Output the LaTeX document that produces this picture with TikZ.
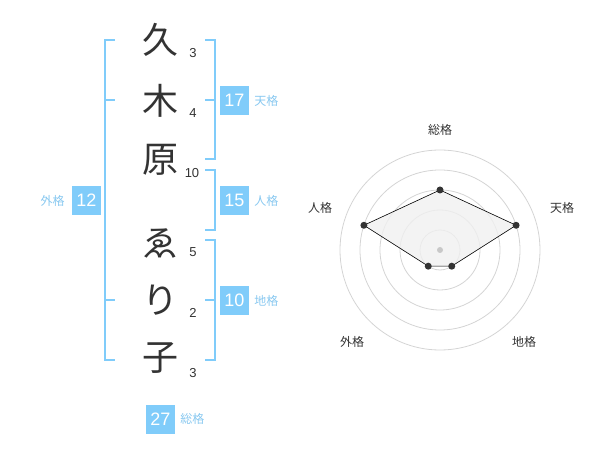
\documentclass[tikz,border=0pt]{standalone}
\usepackage{fontspec}
\setmainfont{Liberation Sans}
\newfontfamily\jpfont{Noto Sans CJK JP}
\usepackage{tikz}
\usetikzlibrary{positioning}
\definecolor{kakublue}{RGB}{128,204,250}
\definecolor{kakutext}{RGB}{136,200,240}
\definecolor{inkgray}{RGB}{51,51,51}
\definecolor{ringgray}{RGB}{212,212,212}
\definecolor{areagray}{RGB}{240,240,240}
\definecolor{centergray}{RGB}{200,200,200}

\begin{document}
\begin{tikzpicture}[
    x=1pt, y=-1pt,
    kanji/.style={font=\jpfont\fontsize{36}{36}\selectfont, text=inkgray, inner sep=0pt},
    strokes/.style={font=\fontsize{13}{13}\selectfont, text=inkgray, inner sep=0pt},
    kakubox/.style={fill=kakublue, text=white, font=\fontsize{18}{18}\selectfont, minimum width=29pt, minimum height=29pt, inner sep=0pt},
    kakulabel/.style={font=\jpfont\fontsize{12}{12}\selectfont, text=kakutext, inner sep=0pt},
    bracket/.style={draw=kakublue, line width=2pt},
    ring/.style={draw=ringgray, line width=0.8pt},
    dot/.style={circle, fill=inkgray, minimum size=7pt, inner sep=0pt},
    axislabel/.style={font=\jpfont\fontsize{12}{12}\selectfont, text=inkgray, inner sep=0pt}
]
    \useasboundingbox (0,0) rectangle (600,470);

    % name
    \node[kanji] (c1) at (160,40) {久};
    \node[kanji] (c2) at (160,101) {木};
    \node[kanji] (c3) at (160,160) {原};
    \node[kanji] (c4) at (160,243) {ゑ};
    \node[kanji] (c5) at (160,300) {り};
    \node[kanji] (c6) at (160,358) {子};

    \node[strokes] (s1) at (193,53) {3};
    \node[strokes] (s2) at (193,113) {4};
    \node[strokes] (s3) at (192,173) {10};
    \node[strokes] (s4) at (193,252) {5};
    \node[strokes] (s5) at (193,313) {2};
    \node[strokes] (s6) at (193,373) {3};

    % brackets
    \draw[bracket] (115,40) -- (105,40) -- (105,360) -- (115,360);
    \draw[bracket] (105,100) -- (115,100);
    \draw[bracket] (105,300) -- (115,300);
    \draw[bracket] (205,40) -- (215,40) -- (215,159) -- (205,159);
    \draw[bracket] (205,100) -- (215,100);
    \draw[bracket] (205,170) -- (215,170) -- (215,230) -- (205,230);
    \draw[bracket] (205,240) -- (215,240) -- (215,360) -- (205,360);
    \draw[bracket] (205,300) -- (215,300);

    % kaku
    \node[kakubox] (gai) at (86.5,200.5) {12};
    \node[kakulabel, left=7pt of gai] (gailabel) {外格};
    \node[kakubox] (ten) at (234.5,100.5) {17};
    \node[kakulabel, right=5pt of ten] (tenlabel) {天格};
    \node[kakubox] (jin) at (234.5,200.5) {15};
    \node[kakulabel, right=5pt of jin] (jinlabel) {人格};
    \node[kakubox] (chi) at (234.5,300.5) {10};
    \node[kakulabel, right=5pt of chi] (chilabel) {地格};
    \node[kakubox] (sou) at (160.5,419) {27};
    \node[kakulabel, right=5pt of sou] (soulabel) {総格};

    % radar
    \begin{scope}[shift={(440,250)}, y=1pt]
        \foreach \r in {20,40,60,80,100}
            \draw[ring] (0,0) circle (\r);
        \coordinate (psou) at (90:60);
        \coordinate (pten) at (18:80);
        \coordinate (pchi) at (-54:20);
        \coordinate (pgai) at (-126:20);
        \coordinate (pjin) at (162:80);
        \filldraw[fill=areagray, fill opacity=0.8, draw=black, line width=0.6pt]
            (psou) -- (pten) -- (pchi) -- (pgai) -- (pjin) -- cycle;
        \fill[centergray] (0,0) circle (3);
        \foreach \p in {psou,pten,pchi,pgai,pjin}
            \node[dot] at (\p) {};
        \node[axislabel] (asou) at (0,120) {総格};
        \node[axislabel] (aten) at (122,42) {天格};
        \node[axislabel] (ajin) at (-120,42) {人格};
        \node[axislabel] (achi) at (84,-92) {地格};
        \node[axislabel] (agai) at (-88,-92) {外格};
    \end{scope}
\end{tikzpicture}
\end{document}
